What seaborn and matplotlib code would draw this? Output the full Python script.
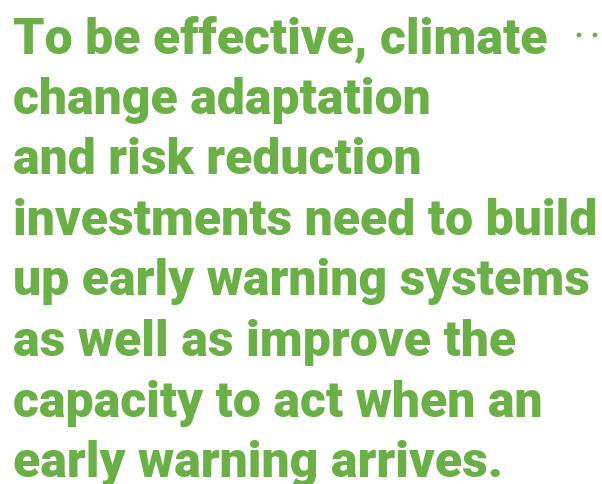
import matplotlib.pyplot as plt
import seaborn as sns

lines = [
    "To be effective, climate",
    "change adaptation",
    "and risk reduction",
    "investments need to build",
    "up early warning systems",
    "as well as improve the",
    "capacity to act when an",
    "early warning arrives.",
]
green = "#6BAF47"

sns.set_theme(style="white")
plt.rcParams['font.family'] = ['Roboto', 'DejaVu Sans']

fig = plt.figure(figsize=(6.02, 4.85), dpi=100)
ax = fig.add_axes([0, 0, 1, 1])

# the little "more" dots top right
sns.scatterplot(x=[579, 595], y=[36, 36], color=green, s=12, edgecolor='none',
                ax=ax, legend=False)

first_base = 53
pitch = 60.6
for i, line in enumerate(lines):
    ax.text(13, first_base + i * pitch, line, color=green, fontsize=36,
            fontweight='heavy', va='baseline', ha='left')

ax.set_xlim(0, 602)
ax.set_ylim(485, 0)
ax.axis('off')

fig.savefig('out.png', dpi=100)
